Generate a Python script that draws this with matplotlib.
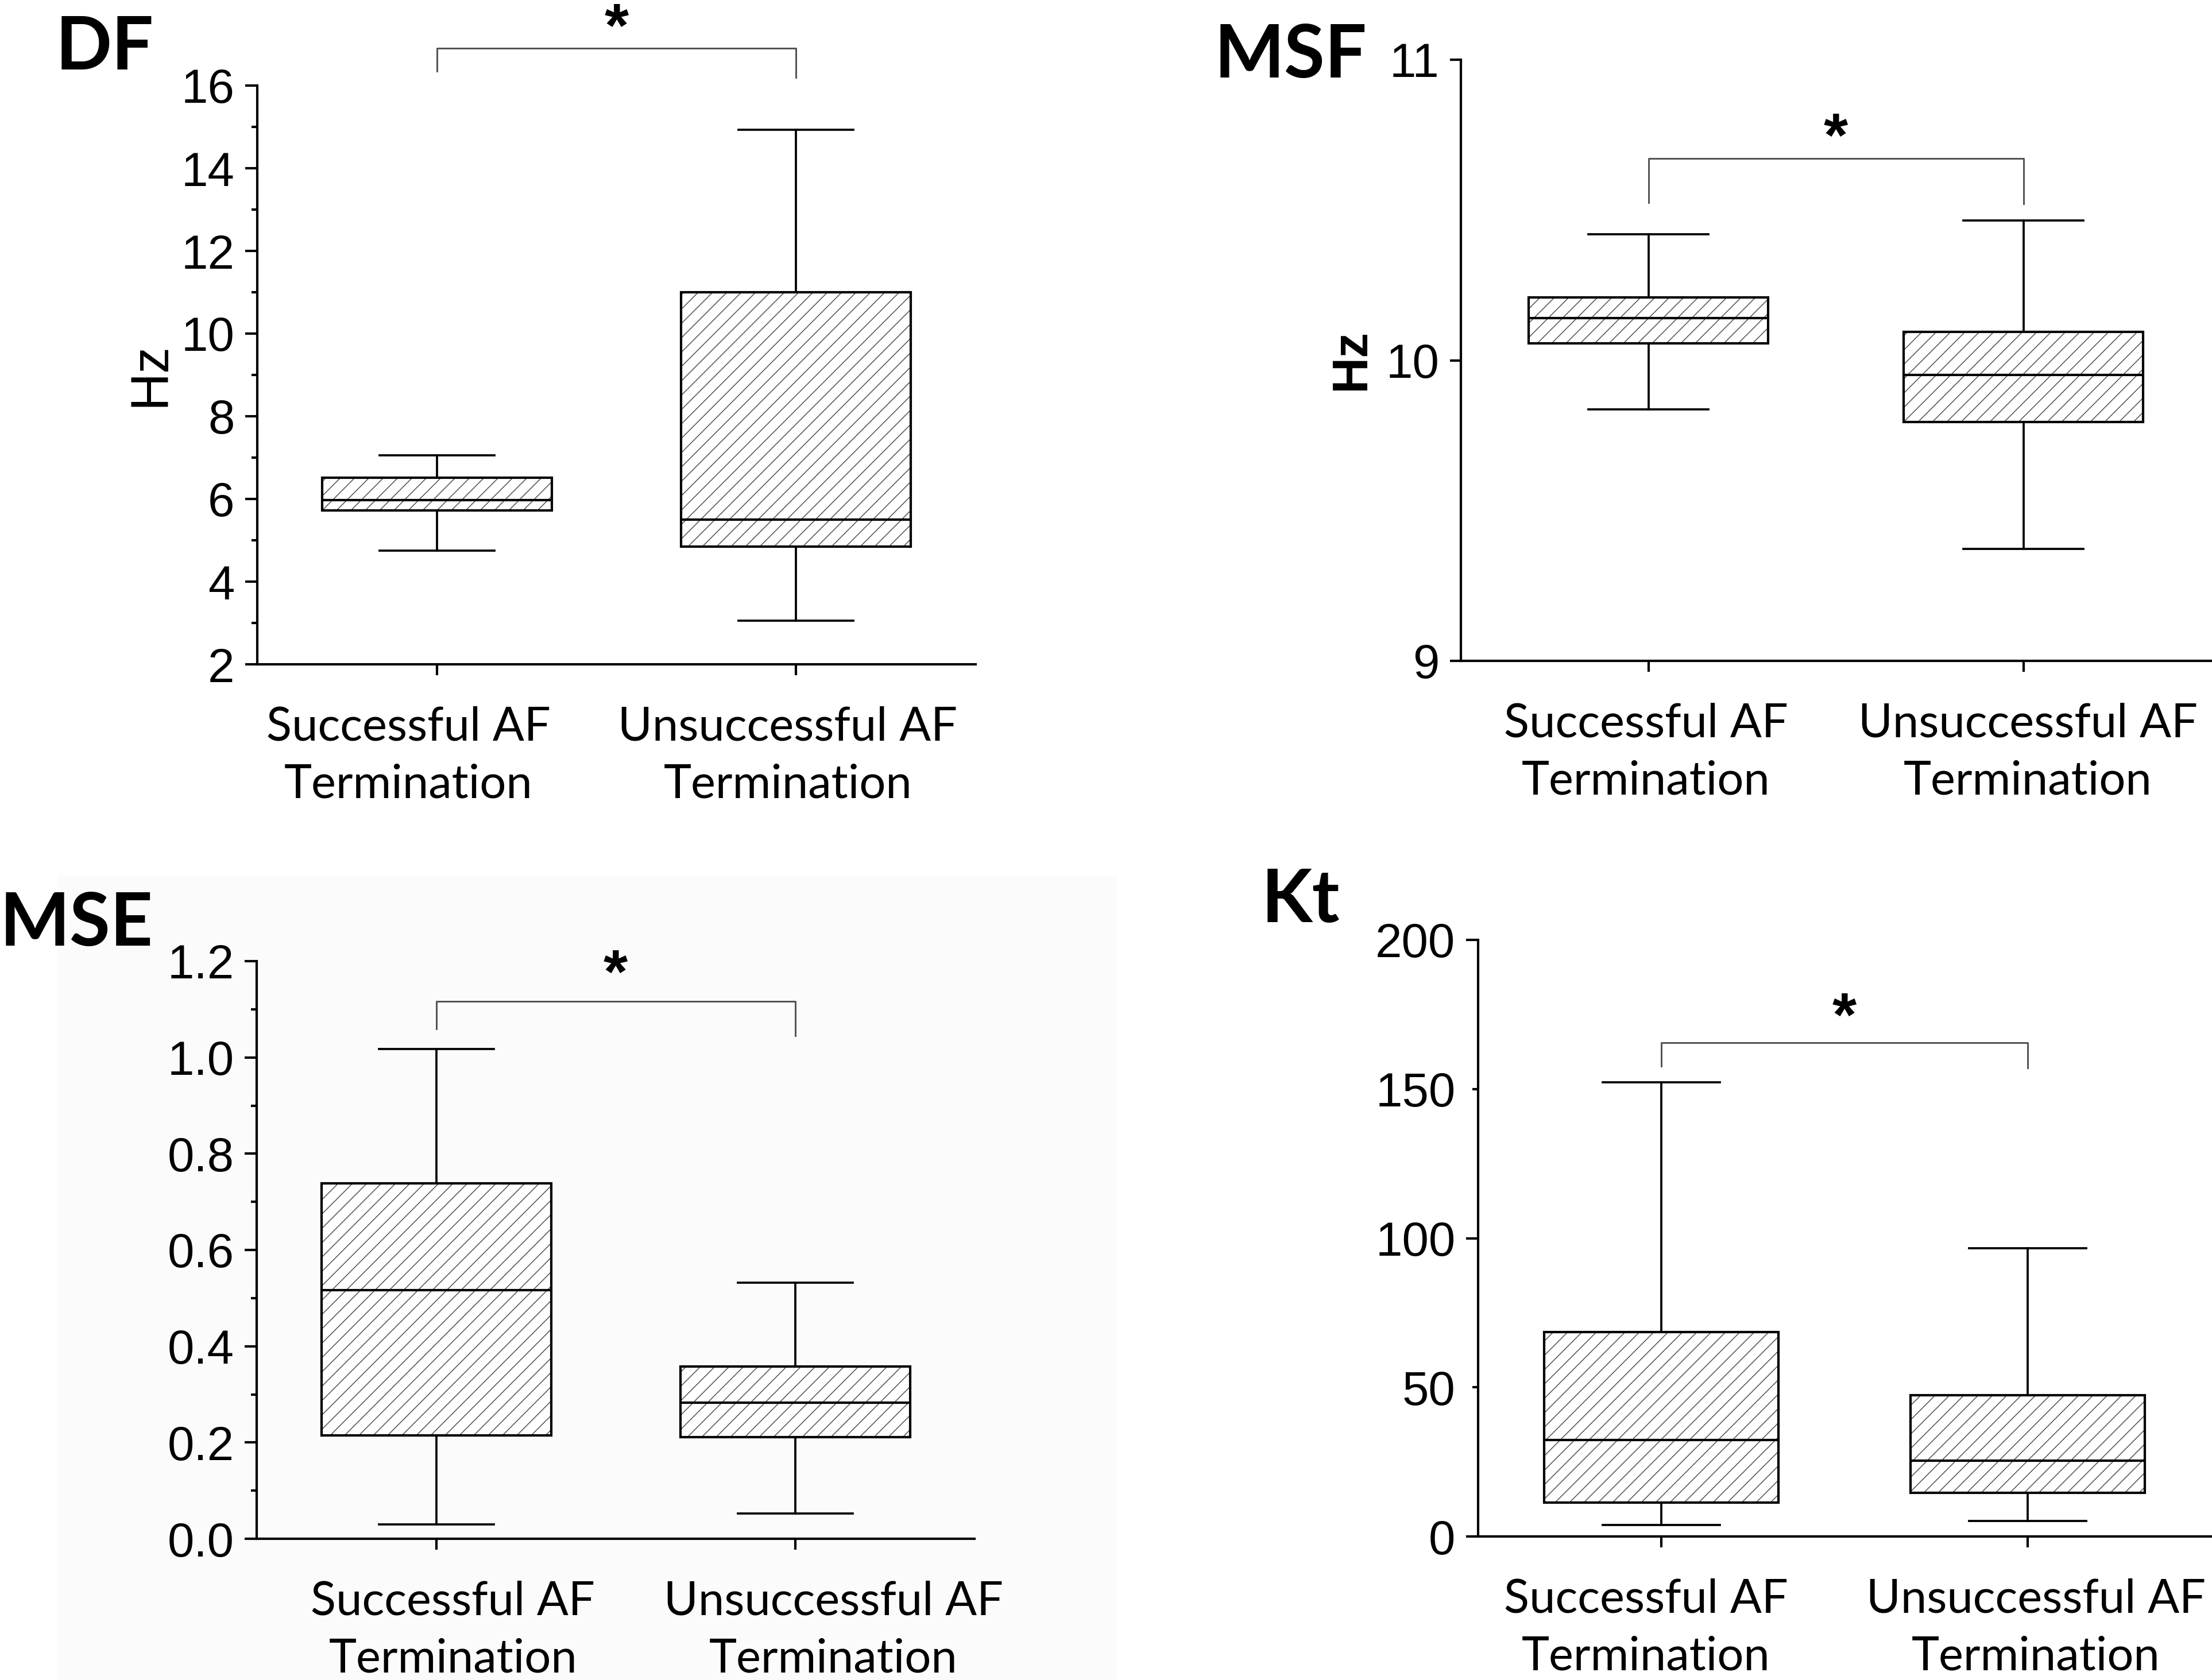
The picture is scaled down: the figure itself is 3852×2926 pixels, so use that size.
import matplotlib
matplotlib.use("Agg")
import matplotlib.pyplot as plt
from matplotlib.patches import Rectangle
from matplotlib.colors import to_rgba

W, H, DPI = 3852, 2926, 300

plt.rcParams['font.family'] = ['Liberation Sans', 'DejaVu Sans']
plt.rcParams['hatch.linewidth'] = 0.35

groups = ["Successful AF\nTermination", "Unsuccessful AF\nTermination"]

# five-number summaries: low whisker, Q1, median, Q3, high whisker
df_succ = [4.75, 5.72, 5.97, 6.52, 7.06]
df_unsucc = [3.06, 4.85, 5.50, 11.0, 14.93]
msf_succ = [9.837, 10.057, 10.14, 10.21, 10.42]
msf_unsucc = [9.373, 9.794, 9.952, 10.094, 10.465]
mse_succ = [0.030, 0.215, 0.516, 0.738, 1.018]
mse_unsucc = [0.053, 0.211, 0.283, 0.358, 0.532]
kt_succ = [3.9, 11.3, 32.4, 68.6, 152.2]
kt_unsucc = [5.2, 14.7, 25.4, 47.4, 96.7]

df_ticks = [2, 4, 6, 8, 10, 12, 14, 16]
df_minor = [3, 5, 7, 9, 11, 13, 15]
msf_ticks = [9, 10, 11]
mse_ticks = [0.0, 0.2, 0.4, 0.6, 0.8, 1.0, 1.2]
mse_minor = [0.1, 0.3, 0.5, 0.7, 0.9, 1.1]
kt_ticks = [0, 100, 200]
kt_minor = [50, 150]

# significance brackets: (left foot, bar, right foot, star)
df_sig = (16.35, 16.9, 16.2, 17.68)
msf_sig = (10.524, 10.671, 10.52, 10.78)
mse_sig = (1.059, 1.117, 1.045, 1.198)
kt_sig = (157.6, 165.6, 157.0, 178.0)


def px_rect(x0, x1, ytop, ybot):
    return [x0 / W, 1 - ybot / H, (x1 - x0) / W, (ybot - ytop) / H]


fig = plt.figure(figsize=(W / DPI, H / DPI), dpi=DPI)

# faint grey backdrop behind the lower-left panel (scanned original)
fig.patches.append(Rectangle((100 / W, 0), (1945 - 100) / W, 1 - 1525 / H,
                             transform=fig.transFigure, facecolor='#fbfbfb',
                             edgecolor='none', zorder=-10))


def draw_panel(rect, succ, unsucc, ylim, yticks, ylabels, sig, label_dx,
               yminor=None, minor_labels=None, major_len=5.0):
    ax = fig.add_axes(rect)
    ax.patch.set_alpha(0)
    stats = [dict(whislo=s[0], q1=s[1], med=s[2], q3=s[3], whishi=s[4], fliers=[])
             for s in (succ, unsucc)]
    bp = ax.bxp(stats, positions=[1, 2], widths=0.64, capwidths=0.32,
                patch_artist=True, showfliers=False,
                boxprops=dict(facecolor='white', edgecolor='black', linewidth=1.0),
                whiskerprops=dict(color='black', linewidth=0.9),
                capprops=dict(color='black', linewidth=0.9),
                medianprops=dict(color='black', linewidth=1.0))
    for b in bp['boxes']:
        b.set_hatch('////')
        b._hatch_color = to_rgba('#4a4a4a')

    ax.set_xlim(0.5, 2.5)
    ax.set_ylim(*ylim)
    for side in ('top', 'right'):
        ax.spines[side].set_visible(False)
    for side in ('left', 'bottom'):
        ax.spines[side].set_linewidth(1.0)

    ax.set_yticks(yticks, labels=ylabels)
    ax.tick_params(axis='y', which='major', direction='out', length=major_len,
                   width=1.0, pad=4.5, labelsize=20)
    if yminor is not None:
        ax.set_yticks(yminor, labels=minor_labels if minor_labels else [''] * len(yminor),
                      minor=True)
        ax.tick_params(axis='y', which='minor', direction='out', length=2.4,
                       width=1.0, pad=4.5 + major_len - 2.4, labelsize=20)
    ax.set_xticks([1, 2], labels=['', ''])
    ax.tick_params(axis='x', direction='out', length=4.5, width=1.0)

    for pos, text, dx in zip([1, 2], groups, label_dx):
        ax.annotate(text, xy=(pos, 0), xycoords=('data', 'axes fraction'),
                    xytext=(dx, -17.5), textcoords='offset points',
                    ha='center', va='top', fontsize=19.5, family='Lato',
                    linespacing=1.43, annotation_clip=False)

    left, bar, right, star = sig
    ax.plot([1, 1, 2, 2], [left, bar, bar, right], color='#505050', lw=0.7,
            clip_on=False)
    ax.annotate('*', xy=(1.5, star), xytext=(0, -6), textcoords='offset points',
                ha='center', va='center', fontsize=26, fontweight='bold',
                annotation_clip=False)
    return ax


draw_panel(px_rect(448, 1699, 149, 1157), df_succ, df_unsucc, (2, 16),
           df_ticks, [str(t) for t in df_ticks], df_sig, (-11.8, -3.5),
           yminor=df_minor)
draw_panel(px_rect(2544, 3850, 104, 1151), msf_succ, msf_unsucc, (9, 11),
           msf_ticks, [str(t) for t in msf_ticks], msf_sig, (-1, 1.8),
           major_len=4.5)
draw_panel(px_rect(447, 1697, 1674, 2680), mse_succ, mse_unsucc, (0, 1.2),
           mse_ticks, [f"{t:.1f}" for t in mse_ticks], mse_sig, (7, 16),
           yminor=mse_minor)
draw_panel(px_rect(2574, 3850, 1637, 2676), kt_succ, kt_unsucc, (0, 200),
           kt_ticks, [str(t) for t in kt_ticks], kt_sig, (-6.5, 3.5),
           yminor=kt_minor, minor_labels=[str(t) for t in kt_minor])

# panel letters and y-axis titles
for name, x, y in [("DF", 97, 121), ("MSF", 2115, 135), ("MSE", 0, 1647), ("Kt", 2197, 1606)]:
    fig.text(x / W, 1 - y / H, name, ha='left', va='baseline', fontsize=31,
             fontweight='bold', family='Lato')
fig.text(263 / W, 1 - 652 / H, "Hz", rotation=90, ha='center', va='center', fontsize=22)
fig.text(2354 / W, 1 - 627 / H, "Hz", rotation=90, ha='center', va='center',
         fontsize=21, fontweight='bold')

fig.savefig("out.png", dpi=DPI, facecolor='white')
